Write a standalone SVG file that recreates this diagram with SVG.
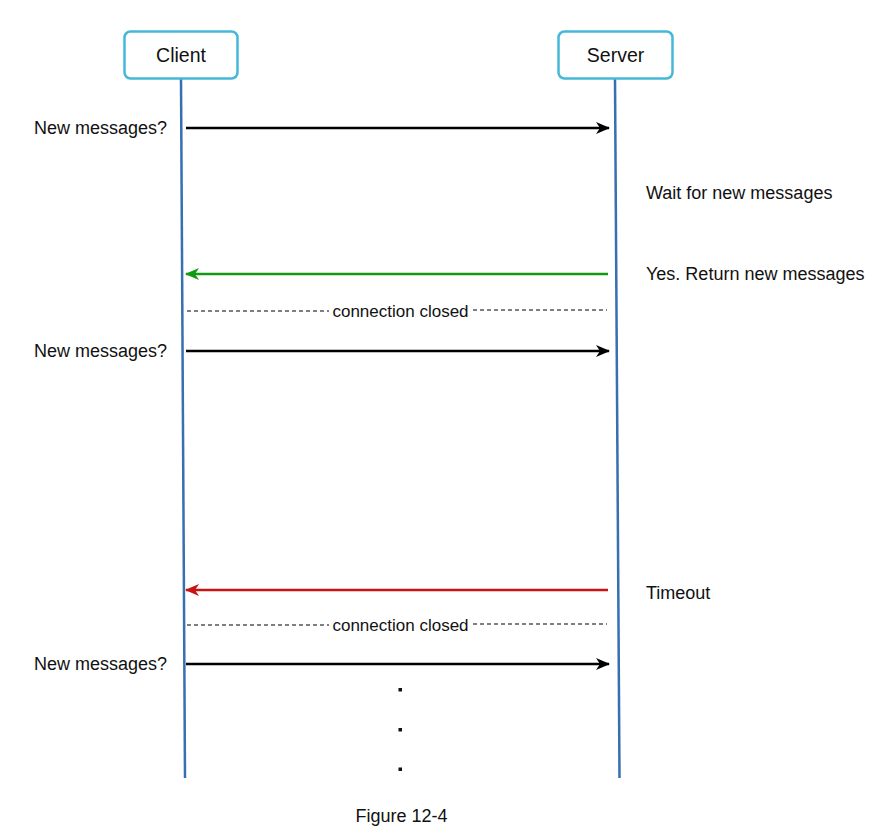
<svg xmlns="http://www.w3.org/2000/svg" width="893" height="834" viewBox="0 0 893 834">
<style>
.lbl{font-family:"Liberation Sans",Arial,sans-serif;font-size:18px;fill:#111}
.hd{font-family:"Liberation Sans",Arial,sans-serif;font-size:19.5px;fill:#111}
.cc{font-family:"Liberation Sans",Arial,sans-serif;font-size:17px;fill:#111}
.box{fill:#fff;stroke:#45B8D8;stroke-width:2.5}
.life{stroke:#3670B0;stroke-width:2.5;fill:none}
.msg{stroke-width:2.5;fill:none}
.dash{stroke:#000;stroke-width:1.2;stroke-dasharray:4 3;fill:none}
</style>
<defs>
<marker id="ab" viewBox="0 0 14 12" refX="13" refY="6" markerWidth="14" markerHeight="12" markerUnits="userSpaceOnUse" orient="auto"><path d="M0,0 L14,6 L0,12 L4,6 Z" fill="#000"/></marker>
<marker id="ag" viewBox="0 0 14 12" refX="13" refY="6" markerWidth="14" markerHeight="12" markerUnits="userSpaceOnUse" orient="auto"><path d="M0,0 L14,6 L0,12 L4,6 Z" fill="#129A12"/></marker>
<marker id="ar" viewBox="0 0 14 12" refX="13" refY="6" markerWidth="14" markerHeight="12" markerUnits="userSpaceOnUse" orient="auto"><path d="M0,0 L14,6 L0,12 L4,6 Z" fill="#C81414"/></marker>
</defs>
<rect width="893" height="834" fill="#fff"/>
<g id="client">
<line class="life" x1="181" y1="79" x2="185" y2="778"/>
<rect class="box" x="124.5" y="31.5" width="113" height="47" rx="6"/>
<text class="hd" x="181" y="62" text-anchor="middle">Client</text>
</g>
<g id="server">
<line class="life" x1="615" y1="79" x2="619.5" y2="778"/>
<rect class="box" x="558.5" y="31.5" width="114" height="47" rx="6"/>
<text class="hd" x="615.5" y="62" text-anchor="middle">Server</text>
</g>
<g id="connectors">
<line class="msg" stroke="#000" x1="186" y1="128" x2="609" y2="128" marker-end="url(#ab)"/>
<line class="msg" stroke="#129A12" x1="608" y1="274" x2="186" y2="274" marker-end="url(#ag)"/>
<line class="dash" x1="187" y1="311" x2="329" y2="311"/>
<line class="dash" x1="473" y1="310" x2="607" y2="310"/>
<line class="msg" stroke="#000" x1="186" y1="351" x2="609" y2="351" marker-end="url(#ab)"/>
<line class="msg" stroke="#C81414" x1="608" y1="590" x2="186" y2="590" marker-end="url(#ar)"/>
<line class="dash" x1="187" y1="625" x2="329" y2="625"/>
<line class="dash" x1="473" y1="624" x2="607" y2="624"/>
<line class="msg" stroke="#000" x1="186" y1="664" x2="609" y2="664" marker-end="url(#ab)"/>
</g>
<g id="labels">
<text class="lbl" x="34" y="134">New messages?</text>
<text class="lbl" x="34" y="357">New messages?</text>
<text class="lbl" x="34" y="670">New messages?</text>
<text class="lbl" x="646" y="199">Wait for new messages</text>
<text class="lbl" x="646" y="280">Yes. Return new messages</text>
<text class="lbl" x="646" y="599">Timeout</text>
<text class="cc" x="400.5" y="317" text-anchor="middle">connection closed</text>
<text class="cc" x="400.5" y="631" text-anchor="middle">connection closed</text>
<text class="lbl" x="401.5" y="822" text-anchor="middle">Figure 12-4</text>
</g>
<g id="dots" fill="#111">
<rect x="398.5" y="688" width="3.5" height="3.5"/>
<rect x="398.5" y="728" width="3.5" height="3.5"/>
<rect x="398.5" y="767.5" width="3.5" height="3.5"/>
</g>
</svg>
